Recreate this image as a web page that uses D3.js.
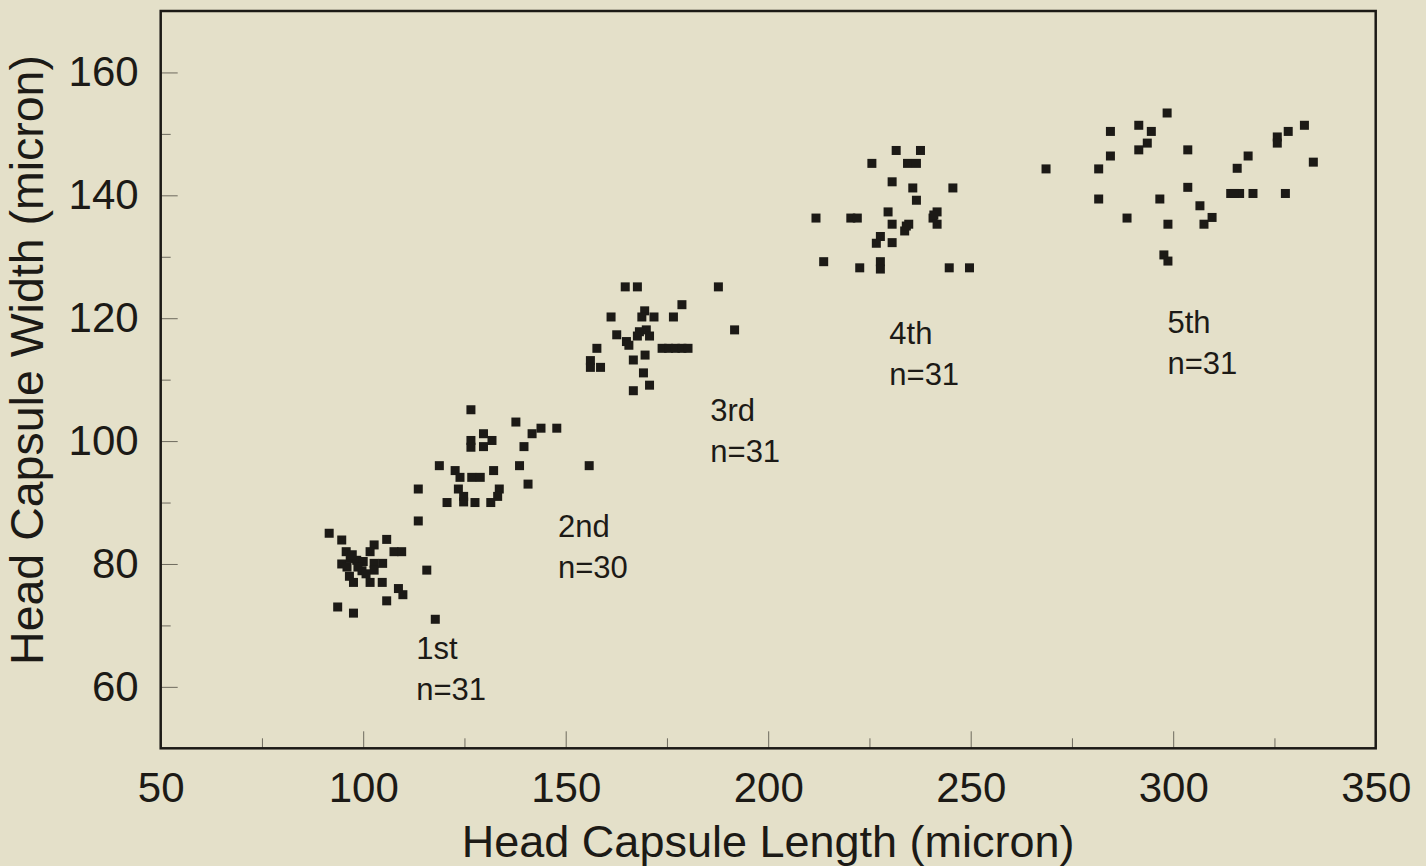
<!DOCTYPE html>
<html>
<head>
<meta charset="utf-8">
<script src="https://cdn.jsdelivr.net/npm/d3@7"></script>
<style>
  html, body { margin: 0; padding: 0; background: #e4e0c9; }
  svg { display: block; font-family: "Liberation Sans", Arial, sans-serif; }
</style>
</head>
<body>
<div id="container"></div>
<script>
// Head capsule [length, width] in micron, one list per instar
const instar1 = [
  [91.6, 85.0], [94.7, 83.9], [105.8, 84.0], [102.7, 83.1], [101.7, 82.0], [95.8, 82.0],
  [107.6, 82.0], [109.5, 82.0], [94.7, 80.0], [96.8, 80.9], [98.4, 80.6], [100.0, 80.4],
  [102.7, 80.1], [104.8, 80.1], [99.7, 78.9], [102.7, 79.0], [96.6, 78.0], [97.6, 77.0],
  [101.7, 77.0], [104.7, 77.0], [108.7, 76.0], [109.8, 75.0], [105.8, 74.0], [93.7, 73.0],
  [97.6, 72.0], [115.7, 79.0], [117.8, 71.0], [97.3, 81.5], [98.7, 79.5], [96.0, 79.5],
  [100.7, 78.4]
];
const instar2 = [
  [126.6, 105.1], [137.7, 103.1], [141.7, 101.2], [143.9, 102.1], [147.8, 102.1], [129.7, 101.2],
  [131.8, 100.1], [126.6, 100.1], [126.6, 99.0], [129.7, 99.1], [139.7, 99.1], [118.8, 96.0],
  [138.6, 96.0], [155.8, 96.0], [122.7, 95.2], [123.9, 94.1], [126.8, 94.1], [128.9, 94.1],
  [132.2, 95.2], [140.7, 93.0], [113.6, 92.2], [123.5, 92.2], [133.6, 92.2], [120.7, 90.0],
  [124.8, 90.1], [127.6, 90.0], [131.5, 90.0], [113.6, 87.0], [124.8, 91.0], [133.2, 91.0]
];
const instar3 = [
  [164.7, 125.1], [167.7, 125.1], [187.7, 125.1], [178.7, 122.2], [161.2, 120.2], [169.5, 121.2],
  [168.8, 120.2], [171.8, 120.2], [176.6, 120.2], [191.7, 118.1], [162.6, 117.3], [165.0, 116.2],
  [167.7, 117.1], [169.9, 118.1], [170.7, 117.1], [157.7, 115.1], [173.8, 115.1], [175.4, 115.1],
  [177.1, 115.1], [178.7, 115.1], [180.2, 115.1], [169.6, 114.0], [166.7, 113.2], [156.1, 113.1],
  [156.1, 112.0], [158.6, 112.0], [169.2, 111.1], [170.7, 109.1], [166.7, 108.2], [168.2, 117.8],
  [165.6, 115.6]
];
const instar4 = [
  [231.6, 147.3], [237.6, 147.3], [225.6, 145.2], [234.4, 145.2], [236.6, 145.2], [230.6, 142.2],
  [235.7, 141.2], [245.6, 141.2], [236.6, 139.2], [229.6, 137.3], [211.8, 136.3], [220.4, 136.3],
  [222.0, 136.3], [241.7, 137.3], [240.7, 136.3], [241.7, 135.3], [230.6, 135.3], [234.7, 135.3],
  [233.7, 134.2], [227.7, 133.3], [226.7, 132.2], [230.6, 132.3], [213.7, 129.2], [222.6, 128.2],
  [227.7, 129.2], [227.7, 128.0], [244.7, 128.2], [249.7, 128.2], [268.6, 144.3], [240.9, 136.8],
  [234.1, 135.0]
];
const instar5 = [
  [281.6, 144.3], [284.5, 150.4], [284.5, 146.4], [281.6, 139.4], [288.6, 136.3], [291.5, 151.4],
  [294.6, 150.4], [293.6, 148.5], [291.5, 147.4], [298.5, 153.4], [303.6, 147.4], [296.7, 139.4],
  [298.7, 135.3], [303.6, 141.3], [306.6, 138.3], [307.6, 135.3], [309.6, 136.4], [297.7, 130.3],
  [298.7, 129.3], [314.2, 140.3], [316.4, 140.3], [319.7, 140.3], [327.7, 140.3], [315.8, 144.4],
  [318.5, 146.4], [325.7, 149.5], [325.7, 148.5], [328.4, 150.4], [332.4, 151.4], [334.6, 145.4],
  [315.1, 140.3]
];

// cluster labels: [length, width] of first baseline, stage, sample size
const labels = [
  { x: 113.1, y: 64.5, stage: '1st', n: 31 },
  { x: 148.1, y: 84.4, stage: '2nd', n: 30 },
  { x: 185.7, y: 103.3, stage: '3rd', n: 31 },
  { x: 229.9, y: 115.8, stage: '4th', n: 31 },
  { x: 298.6, y: 117.6, stage: '5th', n: 31 }
];

const xTicks = [50, 100, 150, 200, 250, 300, 350];
const xMinor = [75, 125, 175, 225, 275, 325];
const yTicks = [60, 80, 100, 120, 140, 160];
const yMinor = [70, 90, 110, 130, 150];

const ink = '#1c1a16';
const width = 1426, height = 866;
const margin = { top: 11, right: 50.3, bottom: 117.7, left: 160.7 };

const svg = d3.select('#container').append('svg')
  .attr('width', width)
  .attr('height', height);

// Scales
const xScale = d3.scaleLinear().domain([50, 350]).range([margin.left, width - margin.right]);
const yScale = d3.scaleLinear().domain([50, 170]).range([height - margin.bottom, margin.top]);

// Axes (ticks point inward)
svg.append('g')
  .attr('transform', `translate(0,${yScale(50)})`)
  .call(d3.axisBottom(xScale).tickValues(xTicks).tickSizeInner(-17).tickSizeOuter(0).tickPadding(24));
svg.append('g')
  .attr('transform', `translate(0,${yScale(50)})`)
  .call(d3.axisBottom(xScale).tickValues(xMinor).tickSizeInner(-10).tickSizeOuter(0).tickFormat(''));
svg.append('g')
  .attr('transform', `translate(${xScale(50)},0)`)
  .call(d3.axisLeft(yScale).tickValues(yTicks).tickSizeInner(-17).tickSizeOuter(0).tickPadding(22));
svg.append('g')
  .attr('transform', `translate(${xScale(50)},0)`)
  .call(d3.axisLeft(yScale).tickValues(yMinor).tickSizeInner(-10).tickSizeOuter(0).tickFormat(''));

svg.selectAll('.domain').remove();
svg.selectAll('.tick line').attr('stroke', '#6d6a5e').attr('stroke-width', 1);
svg.selectAll('.tick text')
  .attr('fill', ink)
  .style('font-size', '42px');

// Frame
svg.append('rect')
  .attr('x', xScale(50))
  .attr('y', yScale(170))
  .attr('width', xScale(350) - xScale(50))
  .attr('height', yScale(50) - yScale(170))
  .attr('fill', 'none')
  .attr('stroke', ink)
  .attr('stroke-width', 2.5);

// Axis titles
svg.append('text')
  .attr('x', (xScale(50) + xScale(350)) / 2)
  .attr('y', 857)
  .attr('text-anchor', 'middle')
  .attr('fill', ink)
  .style('font-size', '45px')
  .text('Head Capsule Length (micron)');

svg.append('text')
  .attr('transform', 'translate(43,360) rotate(-90)')
  .attr('text-anchor', 'middle')
  .attr('fill', ink)
  .style('font-size', '46.5px')
  .text('Head Capsule Width (micron)');

// Points
const allPoints = [instar1, instar2, instar3, instar4, instar5].flat();
const size = 9;
svg.append('g').selectAll('rect')
  .data(allPoints)
  .enter().append('rect')
  .attr('x', d => xScale(d[0]) - size / 2)
  .attr('y', d => yScale(d[1]) - size / 2)
  .attr('width', size)
  .attr('height', size)
  .attr('fill', ink);

// Instar labels
const lab = svg.append('g').selectAll('text')
  .data(labels)
  .enter().append('text')
  .attr('x', d => xScale(d.x))
  .attr('y', d => yScale(d.y))
  .attr('fill', ink)
  .style('font-size', '31px');
lab.append('tspan').text(d => d.stage);
lab.append('tspan')
  .attr('x', d => xScale(d.x))
  .attr('dy', 41)
  .text(d => 'n=' + d.n);
</script>
</body>
</html>
